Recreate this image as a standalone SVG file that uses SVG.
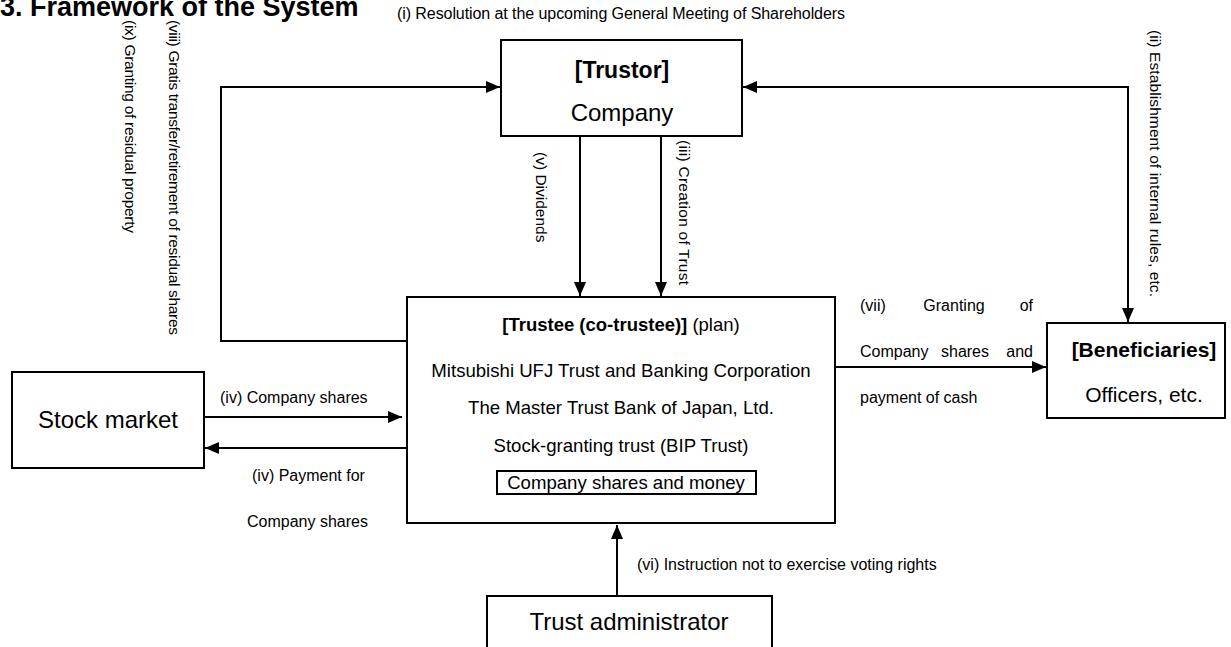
<svg xmlns="http://www.w3.org/2000/svg" width="1231" height="647" viewBox="0 0 1231 647">
<style>
text{font-family:"Liberation Sans",Arial,sans-serif;fill:#000}
.box{fill:#fff;stroke:#000;stroke-width:2}
.ln{fill:none;stroke:#000;stroke-width:2}
.b{font-weight:bold}
.s{font-size:16px}
.r{font-size:15.5px}
</style>
<defs>
<marker id="ah" viewBox="0 0 14 12" refX="14" refY="6" markerWidth="14" markerHeight="12" markerUnits="userSpaceOnUse" orient="auto-start-reverse">
<path d="M0,0 L14,6 L0,12 Z" fill="#000"/>
</marker>
</defs>
<rect width="1231" height="647" fill="#fff"/>
<text x="0" y="16" class="b" font-size="27">3. Framework of the System</text>
<text x="397" y="19" class="s" textLength="448">(i) Resolution at the upcoming General Meeting of Shareholders</text>

<g id="connectors">
<polyline class="ln" points="407,341 221,341 221,87 500,87" marker-end="url(#ah)"/>
<polyline class="ln" points="743,87 1128,87 1128,322" marker-start="url(#ah)" marker-end="url(#ah)"/>
<line class="ln" x1="580" y1="137" x2="580" y2="296" marker-end="url(#ah)"/>
<line class="ln" x1="661" y1="137" x2="661" y2="296" marker-end="url(#ah)"/>
<line class="ln" x1="835" y1="367" x2="1046" y2="367" marker-end="url(#ah)"/>
<line class="ln" x1="204" y1="417" x2="402" y2="417" marker-end="url(#ah)"/>
<line class="ln" x1="406" y1="448" x2="205" y2="448" marker-end="url(#ah)"/>
<line class="ln" x1="617" y1="596" x2="617" y2="525" marker-end="url(#ah)"/>
<text class="r" transform="translate(125,20) rotate(90)" textLength="213">(ix) Granting of residual property</text>
<text class="r" transform="translate(169,20) rotate(90)" textLength="315">(viii) Gratis transfer/retirement of residual shares</text>
<text class="r" transform="translate(536,152) rotate(90)">(v) Dividends</text>
<text class="r" transform="translate(679,140) rotate(90)" textLength="145">(iii) Creation of Trust</text>
<text class="r" transform="translate(1150,30) rotate(90)" textLength="267">(ii) Establishment of internal rules, etc.</text>
<text x="860" y="311" class="s">(vii)</text>
<text x="954" y="311" class="s" text-anchor="middle">Granting</text>
<text x="1033" y="311" class="s" text-anchor="end">of</text>
<text x="860" y="357" class="s">Company</text>
<text x="965" y="357" class="s" text-anchor="middle">shares</text>
<text x="1033" y="357" class="s" text-anchor="end">and</text>
<text x="860" y="403" class="s">payment of cash</text>
<text x="220" y="403" class="s">(iv) Company shares</text>
<text x="252" y="481" class="s">(iv) Payment for</text>
<text x="247" y="527" class="s">Company shares</text>
<text x="637" y="570" class="s">(vi) Instruction not to exercise voting rights</text>
</g>

<g id="trustor">
<rect class="box" x="501" y="40" width="241" height="96"/>
<text x="622" y="78" class="b" font-size="23" text-anchor="middle">[Trustor]</text>
<text x="622" y="121" font-size="24" text-anchor="middle">Company</text>
</g>

<g id="trustee">
<rect class="box" x="407" y="297" width="428" height="226"/>
<text x="621" y="331" font-size="18.5" text-anchor="middle"><tspan class="b">[Trustee (co-trustee)]</tspan> (plan)</text>
<text x="621" y="377" font-size="18.6" text-anchor="middle">Mitsubishi UFJ Trust and Banking Corporation</text>
<text x="621" y="414" font-size="18.6" text-anchor="middle">The Master Trust Bank of Japan, Ltd.</text>
<text x="621" y="452" font-size="18.6" text-anchor="middle">Stock-granting trust (BIP Trust)</text>
<rect class="box" x="497" y="471" width="259" height="23"/>
<text x="626" y="489" font-size="18.6" text-anchor="middle">Company shares and money</text>
</g>

<g id="beneficiaries">
<rect class="box" x="1047" y="323" width="178" height="95"/>
<text x="1144" y="357" class="b" font-size="21" text-anchor="middle">[Beneficiaries]</text>
<text x="1144" y="402" font-size="21" text-anchor="middle">Officers, etc.</text>
</g>

<g id="stock-market">
<rect class="box" x="12" y="372" width="192" height="96"/>
<text x="108" y="428" font-size="24" text-anchor="middle">Stock market</text>
</g>

<g id="trust-administrator">
<rect class="box" x="487" y="596" width="285" height="60"/>
<text x="629" y="630" font-size="24" text-anchor="middle">Trust administrator</text>
</g>
</svg>
